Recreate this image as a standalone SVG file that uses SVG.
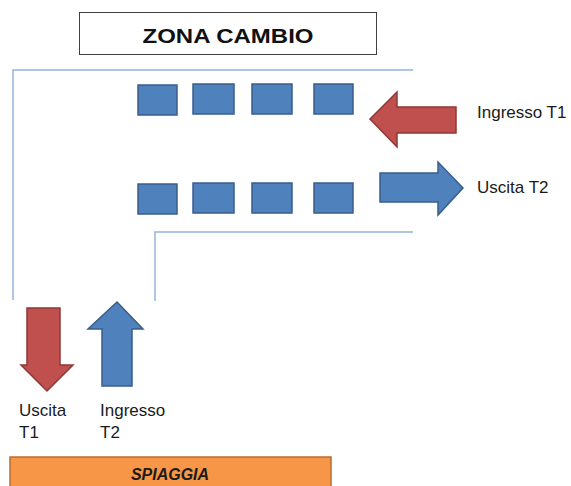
<svg xmlns="http://www.w3.org/2000/svg" width="571" height="486" viewBox="0 0 571 486">
<style>
.t{font-family:"Liberation Sans","Open Sans",sans-serif;font-size:17px;fill:#1a1a1a}
.wall{stroke:#95B3D7;stroke-width:1.5;fill:none}
.sq{fill:#4F81BD;stroke:#385D8A;stroke-width:1.5}
.blue{fill:#4F81BD;stroke:#385D8A;stroke-width:1.5}
.red{fill:#C0504D;stroke:#8C3836;stroke-width:1.5}
</style>
<rect width="571" height="486" fill="#fff"/>
<g id="zona-cambio">
<rect x="79.5" y="12.5" width="297" height="42" fill="#fff" stroke="#404040" stroke-width="1"/>
<text x="228" y="43" text-anchor="middle" style="font-family:'Liberation Sans',sans-serif;font-weight:bold;font-size:21px" textLength="171" lengthAdjust="spacingAndGlyphs" fill="#111">ZONA CAMBIO</text>
</g>
<g id="walls">
<path class="wall" d="M413 70 H13 V300"/>
<path class="wall" d="M413 232 H155 V301"/>
</g>
<g id="bikes-top">
<rect class="sq" x="138" y="85" width="39" height="30"/>
<rect class="sq" x="193" y="84" width="41" height="30"/>
<rect class="sq" x="252" y="84" width="40" height="30"/>
<rect class="sq" x="314" y="84" width="39" height="30"/>
</g>
<g id="bikes-bottom">
<rect class="sq" x="138" y="184" width="39" height="30"/>
<rect class="sq" x="193" y="183" width="41" height="30"/>
<rect class="sq" x="252" y="183" width="40" height="30"/>
<rect class="sq" x="314" y="183" width="39" height="30"/>
</g>
<g id="ingresso-t1">
<polygon class="red" points="370,119 397,92 397,107 456,107 456,133 397,133 397,147"/>
<text class="t" x="477" y="118">Ingresso T1</text>
</g>
<g id="uscita-t2">
<polygon class="blue" points="463,188 438,162 438,173 380,173 380,202 438,202 438,215"/>
<text class="t" x="477" y="193">Uscita T2</text>
</g>
<g id="uscita-t1">
<polygon class="red" points="47,391 21,365 27,365 27,308 60,308 60,365 73,365"/>
<text class="t" x="19" y="416">Uscita</text>
<text class="t" x="19" y="438">T1</text>
</g>
<g id="ingresso-t2">
<polygon class="blue" points="117,302 143,329 132,329 132,386 102,386 102,329 88,329"/>
<text class="t" x="100" y="416">Ingresso</text>
<text class="t" x="100" y="438">T2</text>
</g>
<g id="spiaggia">
<rect x="10" y="457" width="321" height="32" fill="#F79646" stroke="#B66D31" stroke-width="1.5"/>
<text x="170" y="480" text-anchor="middle" style="font-family:'Liberation Sans',sans-serif;font-weight:bold;font-style:italic;font-size:16px" fill="#1a1a1a">SPIAGGIA</text>
</g>
</svg>
